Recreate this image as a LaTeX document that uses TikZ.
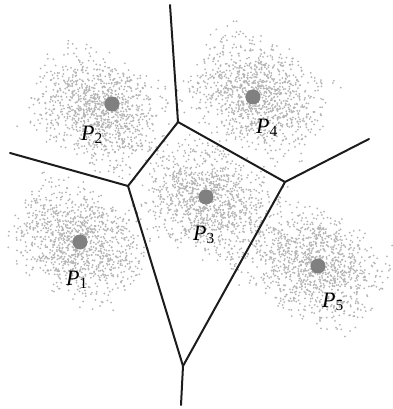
\documentclass[tikz,border=0pt]{standalone}
\usepackage{fontspec}
\setmainfont{Liberation Serif}
\usepackage{tikz}
\usetikzlibrary{positioning}
\definecolor{speckgray}{RGB}{180,180,180}
\definecolor{seedgray}{RGB}{128,128,128}
\definecolor{ridgeblack}{RGB}{28,28,28}
\tikzset{
  seed/.style={circle, fill=seedgray, inner sep=0pt, minimum size=15pt},
  speck/.style={fill=speckgray},
  ridge/.style={draw=ridgeblack, line width=2pt, line cap=round, line join=miter},
  siteLbl/.style={anchor=base west, inner sep=0pt, font=\fontsize{22}{24}\selectfont},
}

\begin{document}
\begin{tikzpicture}[x=1pt, y=-1pt]
    \useasboundingbox (0,0) rectangle (392,409);
    %% point clouds round each site
    \pgfmathsetseed{7}
    \foreach \cx/\cy in {78/242,100/110,208/200,258/97,316/266}{
      \foreach \k in {1,...,1100}{
        \pgfmathsetmacro\ua{(rand+rand)*37}
        \pgfmathsetmacro\ub{(rand+rand)*29}
        \fill[speck] ({\cx+\ua*cos(30)-\ub*sin(30)},{\cy+\ua*sin(30)+\ub*cos(30)}) circle (1pt);
      }
    }
    %% sites
    \node[seed] (s1) at (80,242) {};
    \node[seed] (s2) at (112,104) {};
    \node[seed] (s3) at (206,197) {};
    \node[seed] (s4) at (253,97) {};
    \node[seed] (s5) at (318,266) {};
    %% site labels
    \node[siteLbl] (l1) at (66,285) {\textit{P}\textsubscript{1}};
    \node[siteLbl] (l2) at (81,140) {\textit{P}\textsubscript{2}};
    \node[siteLbl] (l3) at (193,240) {\textit{P}\textsubscript{3}};
    \node[siteLbl] (l4) at (256,133) {\textit{P}\textsubscript{4}};
    \node[siteLbl] (l5) at (322,307) {\textit{P}\textsubscript{5}};
    %% voronoi vertices and free ends
    \coordinate (vA) at (178,122);
    \coordinate (vB) at (128,186);
    \coordinate (vC) at (285,182);
    \coordinate (vD) at (183,366);
    \coordinate (eTop) at (170,5);
    \coordinate (eLeft) at (10,153);
    \coordinate (eRight) at (369,139);
    \coordinate (eBot) at (181,405);
    %% ridges
    \draw[ridge] (eTop) -- (vA);
    \draw[ridge] (eLeft) -- (vB);
    \draw[ridge] (vA) -- (vB);
    \draw[ridge] (vA) -- (vC);
    \draw[ridge] (vC) -- (eRight);
    \draw[ridge] (vC) -- (vD);
    \draw[ridge] (vB) -- (vD);
    \draw[ridge] (vD) -- (eBot);
\end{tikzpicture}
\end{document}
